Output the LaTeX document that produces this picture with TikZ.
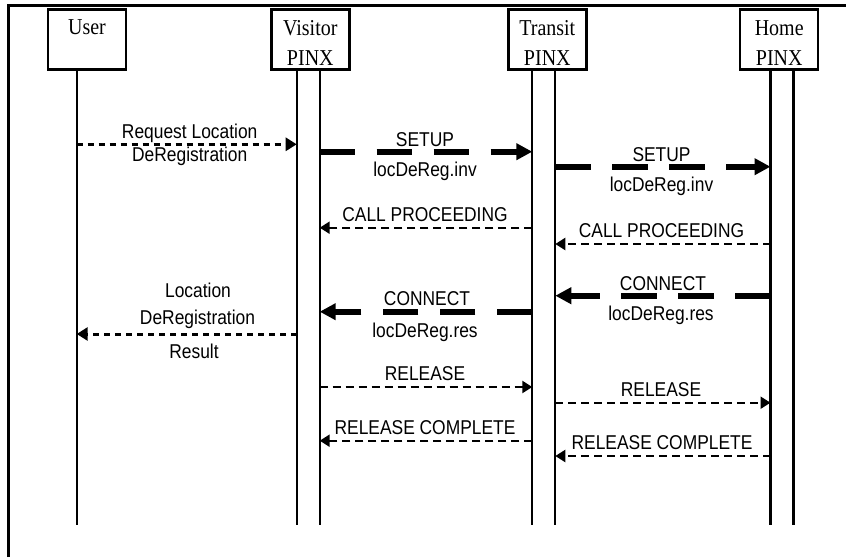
\documentclass[tikz,border=0pt]{standalone}
\usepackage{fontspec}
\setmainfont{Liberation Serif}[FakeStretch=0.88]
\newfontfamily\msgfont{Liberation Sans}[FakeStretch=0.87]
\usetikzlibrary{arrows.meta}
\begin{document}
\begin{tikzpicture}[x=1pt,y=-1pt,
  pbox/.style={draw, line width=2.5pt, minimum width=78pt, minimum height=60pt, inner sep=0pt},
  ptext/.style={font=\fontsize{22.7}{30}\selectfont, inner sep=0pt, anchor=base, align=center},
  mtext/.style={font=\msgfont\fontsize{20}{24}\selectfont, inner sep=0pt, anchor=base},
  life/.style={line width=2.2pt},
  frame/.style={line width=3pt, line join=miter},
  thickmsg/.style={line width=6pt, dash pattern=on 35.5pt off 21.5pt, -{Triangle[length=16pt,width=16pt]}},
  thinmsg/.style={line width=2.2pt, dash pattern=on 8pt off 5pt, -{Triangle[length=10pt,width=12pt]}},
  dotmsg/.style={line width=3pt, dash pattern=on 6pt off 5pt, -{Triangle[length=11pt,width=13pt]}},
]
\useasboundingbox (0,0) rectangle (846,557);
% frame (only top and left edges visible)
\draw[frame] (8.7,557) -- (8.7,5) -- (846,5);

% participant boxes
\node[pbox] (user) at (87,39.3) {};
\node[ptext] (userlbl) at (87,34) {User};
\node[pbox] (visitor) at (310.3,39.3) {};
\node[ptext] (visitorlbl) at (310.3,65) {Visitor\\PINX};
\node[pbox] (transit) at (547.3,39.3) {};
\node[ptext] (transitlbl) at (547.3,65) {Transit\\PINX};
\node[pbox] (home) at (779.2,39.3) {};
\node[ptext] (homelbl) at (779.2,65) {Home\\PINX};

% lifelines
\coordinate (uL) at (76.7,69.3);  \coordinate (uLb) at (76.7,525);
\coordinate (vL) at (296.7,69.3); \coordinate (vLb) at (296.7,525);
\coordinate (vR) at (319.7,69.3); \coordinate (vRb) at (319.7,525);
\coordinate (tL) at (532.3,69.3); \coordinate (tLb) at (532.3,525);
\coordinate (tR) at (555.3,69.3); \coordinate (tRb) at (555.3,525);
\coordinate (hL) at (770.5,69.3); \coordinate (hLb) at (770.5,525);
\coordinate (hR) at (793.5,69.3); \coordinate (hRb) at (793.5,525);
\foreach \a/\b in {uL/uLb,vL/vLb,vR/vRb,tL/tLb,tR/tRb,hL/hLb,hR/hRb}
  \draw[life] (\a) -- (\b);

% Request Location DeRegistration
\draw[dotmsg] (uL |- 0,144.3) -- (vL |- 0,144.3);
\node[mtext] (m1a) at (189.7,138.3) {Request Location};
\node[mtext] (m1b) at (189.7,161) {DeRegistration};

% SETUP visitor -> transit
\draw[thickmsg] (vR |- 0,151.7) -- (tL |- 0,151.7);
\node[mtext] (m2a) at (425,146) {SETUP};
\node[mtext] (m2b) at (425,176) {locDeReg.inv};

% SETUP transit -> home
\draw[thickmsg] (tR |- 0,166.7) -- (hL |- 0,166.7);
\node[mtext] (m3a) at (661.5,161.7) {SETUP};
\node[mtext] (m3b) at (661.5,191.7) {locDeReg.inv};

% CALL PROCEEDING
\draw[thinmsg] (tL |- 0,227.7) -- (vR |- 0,227.7);
\node[mtext] (m4) at (425,221.7) {CALL PROCEEDING};
\draw[thinmsg] (hL |- 0,244) -- (tR |- 0,244);
\node[mtext] (m5) at (661.5,237.5) {CALL PROCEEDING};

% CONNECT
\draw[thickmsg] (hL |- 0,295.7) -- (tR |- 0,295.7);
\node[mtext] (m6a) at (663,290) {CONNECT};
\node[mtext] (m6b) at (661,320) {locDeReg.res};
\draw[thickmsg] (tL |- 0,311.7) -- (vR |- 0,311.7);
\node[mtext] (m7a) at (427,305) {CONNECT};
\node[mtext] (m7b) at (425,337) {locDeReg.res};

% Location DeRegistration Result
\draw[dotmsg] (vL |- 0,334) -- (uL |- 0,334);
\node[mtext] (m8a) at (198,297.3) {Location};
\node[mtext] (m8b) at (197.5,324.3) {DeRegistration};
\node[mtext] (m8c) at (194,358.3) {Result};

% RELEASE
\draw[thinmsg] (vR |- 0,387) -- (tL |- 0,387);
\node[mtext] (m9) at (425,380.7) {RELEASE};
\draw[thinmsg] (tR |- 0,402.7) -- (hL |- 0,402.7);
\node[mtext] (m10) at (661,396.7) {RELEASE};

% RELEASE COMPLETE
\draw[thinmsg] (tL |- 0,440.7) -- (vR |- 0,440.7);
\node[mtext] (m11) at (425,434) {RELEASE COMPLETE};
\draw[thinmsg] (hL |- 0,456) -- (tR |- 0,456);
\node[mtext] (m12) at (662,449.7) {RELEASE COMPLETE};
\end{tikzpicture}
\end{document}
